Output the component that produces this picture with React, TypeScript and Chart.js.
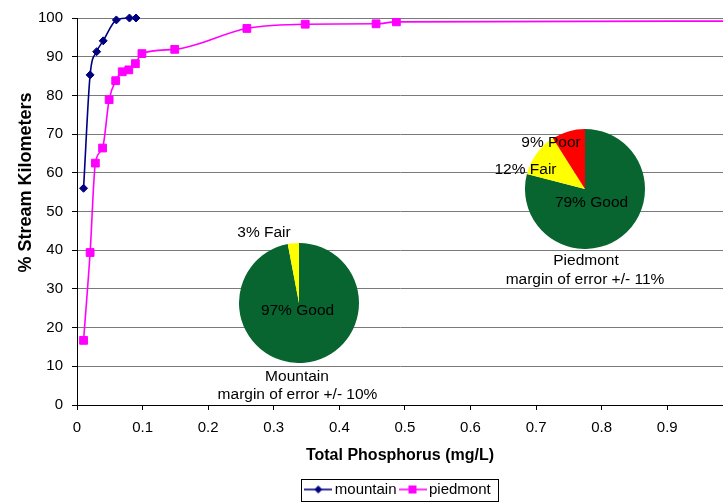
import React, { useEffect, useRef } from 'react';
import { Chart, registerables } from 'chart.js';

Chart.register(...registerables);

const FONT = '"Liberation Sans", Arial, Helvetica, sans-serif';

// ---- line data ----
const mountainX = [0.01, 0.02, 0.03, 0.04, 0.06, 0.08, 0.09];
const mountainY = [56, 85.3, 91.3, 94.1, 99.5, 100, 100];
const piedmontX = [0.01, 0.02, 0.028, 0.039, 0.049, 0.059, 0.069, 0.079, 0.089, 0.099, 0.149, 0.259, 0.348, 0.456, 0.487, 1.0];
const piedmontY = [16.7, 39.4, 62.5, 66.4, 78.9, 83.8, 86.1, 86.6, 88.2, 90.8, 91.9, 97.3, 98.4, 98.5, 99.0, 99.2];

const seriesNames = ['mountain', 'piedmont'];

// ---- axes ----
const xTickValues = [0, 0.1, 0.2, 0.3, 0.4, 0.5, 0.6, 0.7, 0.8, 0.9];
const xTickLabels = ['0', '0.1', '0.2', '0.3', '0.4', '0.5', '0.6', '0.7', '0.8', '0.9'];
const yTickValues = [0, 10, 20, 30, 40, 50, 60, 70, 80, 90, 100];
const yTickLabels = ['0', '10', '20', '30', '40', '50', '60', '70', '80', '90', '100'];
const xTitle = 'Total Phosphorus (mg/L)';
const yTitle = '% Stream Kilometers';

// ---- pies ----
const mountainPieLabels = ['Good', 'Fair'];
const mountainPieValues = [97, 3];
const piedmontPieLabels = ['Good', 'Fair', 'Poor'];
const piedmontPieValues = [79, 12, 9];
const mountainCaption = ['Mountain', 'margin of error +/- 10%'];
const piedmontCaption = ['Piedmont', 'margin of error +/- 11%'];

const NAVY = '#000080';
const MAGENTA = '#FF00FF';
const GREEN = '#08652f';
const YELLOW = '#FFFF00';
const RED = '#FF0000';

function makeIcon(color: string, shape: 'diamond' | 'square') {
  const c = document.createElement('canvas');
  c.width = 28;
  c.height = 12;
  const g = c.getContext('2d')!;
  g.strokeStyle = color;
  g.lineWidth = 1.6;
  g.beginPath();
  g.moveTo(0, 6);
  g.lineTo(28, 6);
  g.stroke();
  g.fillStyle = color;
  if (shape === 'diamond') {
    g.beginPath();
    g.moveTo(14, 2);
    g.lineTo(18, 6);
    g.lineTo(14, 10);
    g.lineTo(10, 6);
    g.closePath();
    g.fill();
  } else {
    g.fillRect(10, 2, 8, 8);
  }
  return c;
}

const yTitlePlugin = {
  id: 'yTitleDraw',
  afterDraw(chart: any) {
    const ctx = chart.ctx;
    const ys = chart.scales.y;
    ctx.save();
    ctx.translate(ys.left + 26.5, ys.top + 164.5);
    ctx.rotate(-Math.PI / 2);
    ctx.font = `bold 18px ${FONT}`;
    ctx.fillStyle = '#000';
    ctx.textAlign = 'center';
    ctx.textBaseline = 'middle';
    ctx.fillText(yTitle, 0, 0);
    ctx.restore();
  },
};

const legendBorderPlugin = {
  id: 'legendBorder',
  afterDraw(chart: any) {
    const lg = chart.legend;
    if (!lg || !lg.legendHitBoxes || !lg.legendHitBoxes.length) return;
    const boxes = lg.legendHitBoxes;
    const left = Math.min(...boxes.map((b: any) => b.left)) - 8;
    const right = Math.max(...boxes.map((b: any) => b.left + b.width)) + 8;
    const cy = boxes[0].top + boxes[0].height / 2;
    const ctx = chart.ctx;
    ctx.save();
    ctx.strokeStyle = '#000';
    ctx.lineWidth = 1;
    ctx.strokeRect(Math.round(left) + 0.5, Math.round(cy - 11) + 0.5, Math.round(right - left), 22);
    ctx.restore();
  },
};

function Label({ x, y, text }: { x: number; y: number; text: string }) {
  return (
    <div
      style={{
        position: 'absolute',
        left: x,
        top: y,
        transform: 'translate(-50%, -50%)',
        font: `15.5px ${FONT}`,
        lineHeight: '1',
        whiteSpace: 'nowrap',
        color: '#000',
      }}
    >
      {text}
    </div>
  );
}

export default function App() {
  const mainRef = useRef<HTMLCanvasElement>(null);
  const pie1Ref = useRef<HTMLCanvasElement>(null);
  const pie2Ref = useRef<HTMLCanvasElement>(null);

  useEffect(() => {
    Chart.defaults.font.family = FONT;
    Chart.defaults.color = '#000';
    const icons = [makeIcon(NAVY, 'diamond'), makeIcon(MAGENTA, 'square')];

    const main = new Chart(mainRef.current!, {
      type: 'line',
      data: {
        datasets: [
          {
            label: seriesNames[0],
            data: mountainX.map((x, i) => ({ x, y: mountainY[i] })),
            borderColor: NAVY,
            backgroundColor: NAVY,
            pointBackgroundColor: NAVY,
            pointBorderColor: NAVY,
            pointStyle: 'rectRot',
            pointRadius: 4,
            pointBorderWidth: 1,
            borderWidth: 1.6,
            cubicInterpolationMode: 'monotone',
            fill: false,
            clip: false,
          } as any,
          {
            label: seriesNames[1],
            data: piedmontX.map((x, i) => ({ x, y: piedmontY[i] })),
            borderColor: MAGENTA,
            backgroundColor: MAGENTA,
            pointBackgroundColor: MAGENTA,
            pointBorderColor: MAGENTA,
            pointStyle: 'rect',
            pointRadius: 5.5,
            pointBorderWidth: 1,
            borderWidth: 1.6,
            cubicInterpolationMode: 'monotone',
            fill: false,
          } as any,
        ],
      },
      options: {
        responsive: false,
        animation: false,
        layout: { autoPadding: false, padding: { top: 17, right: 0, bottom: -5, left: 0 } },
        scales: {
          x: {
            type: 'linear',
            min: 0,
            max: 0.985,
            afterBuildTicks: (s: any) => {
              s.ticks = xTickValues.map((v) => ({ value: v }));
            },
            afterFit: (s: any) => {
              s.height = 70;
            },
            grid: { drawOnChartArea: false, drawTicks: true, tickLength: 5, tickColor: '#000' },
            border: { color: '#000', width: 1 },
            ticks: {
              font: { size: 15, family: FONT },
              color: '#000',
              padding: 9,
              maxRotation: 0,
              autoSkip: false,
              callback: (_v: any, i: number) => xTickLabels[i],
            },
            title: {
              display: true,
              text: xTitle,
              font: { size: 16, weight: 'bold', family: FONT },
              color: '#000',
              padding: { top: 0, bottom: 10 },
            },
          },
          y: {
            type: 'linear',
            min: 0,
            max: 100,
            afterBuildTicks: (s: any) => {
              s.ticks = yTickValues.map((v) => ({ value: v }));
            },
            afterFit: (s: any) => {
              s.width = 77;
            },
            grid: { color: '#7a7a7a', lineWidth: 1, drawTicks: true, tickLength: 5, tickColor: '#000' },
            border: { color: '#000', width: 1 },
            ticks: {
              font: { size: 15, family: FONT },
              color: '#000',
              padding: 9,
              autoSkip: false,
              callback: (_v: any, i: number) => yTickLabels[i],
            },
          },
        },
        plugins: {
          tooltip: { enabled: false },
          legend: {
            position: 'bottom',
            fullSize: false,
            align: 'center',
            labels: {
              usePointStyle: true,
              pointStyleWidth: 18,
              padding: 7,
              font: { size: 15, family: FONT },
              color: '#000',
              generateLabels: (chart: any) =>
                chart.data.datasets.map((ds: any, i: number) => ({
                  text: ds.label,
                  pointStyle: icons[i],
                  fillStyle: 'transparent',
                  strokeStyle: 'transparent',
                  lineWidth: 0,
                  hidden: false,
                  datasetIndex: i,
                  fontColor: '#000',
                })),
            },
          },
        },
      } as any,
      plugins: [yTitlePlugin, legendBorderPlugin],
    });

    const pieOptions: any = {
      responsive: false,
      animation: false,
      layout: { padding: 0 },
      plugins: { legend: { display: false }, tooltip: { enabled: false } },
    };

    const pie1 = new Chart(pie1Ref.current!, {
      type: 'pie',
      data: {
        labels: mountainPieLabels,
        datasets: [{ data: mountainPieValues, backgroundColor: [GREEN, YELLOW], borderWidth: 0 }],
      },
      options: pieOptions,
    });

    const pie2 = new Chart(pie2Ref.current!, {
      type: 'pie',
      data: {
        labels: piedmontPieLabels,
        datasets: [{ data: piedmontPieValues, backgroundColor: [GREEN, YELLOW, RED], borderWidth: 0 }],
      },
      options: pieOptions,
    });

    return () => {
      main.destroy();
      pie1.destroy();
      pie2.destroy();
    };
  }, []);

  return (
    <div style={{ position: 'absolute', left: 0, top: 0, width: 723, height: 502, background: '#fff', overflow: 'hidden' }}>
      <canvas ref={mainRef} width={723} height={502} style={{ position: 'absolute', left: 0, top: 0 }} />
      <canvas ref={pie1Ref} width={120} height={120} style={{ position: 'absolute', left: 239, top: 243 }} />
      <canvas ref={pie2Ref} width={120} height={120} style={{ position: 'absolute', left: 525, top: 129 }} />
      <Label x={264} y={232} text={`${mountainPieValues[1]}% ${mountainPieLabels[1]}`} />
      <Label x={297.5} y={309.5} text={`${mountainPieValues[0]}% ${mountainPieLabels[0]}`} />
      <Label x={297} y={376} text={mountainCaption[0]} />
      <Label x={297.5} y={393.5} text={mountainCaption[1]} />
      <Label x={551} y={141.5} text={`${piedmontPieValues[2]}% ${piedmontPieLabels[2]}`} />
      <Label x={525.5} y={168.5} text={`${piedmontPieValues[1]}% ${piedmontPieLabels[1]}`} />
      <Label x={591.5} y={202} text={`${piedmontPieValues[0]}% ${piedmontPieLabels[0]}`} />
      <Label x={586} y={260} text={piedmontCaption[0]} />
      <Label x={585} y={278.5} text={piedmontCaption[1]} />
    </div>
  );
}
